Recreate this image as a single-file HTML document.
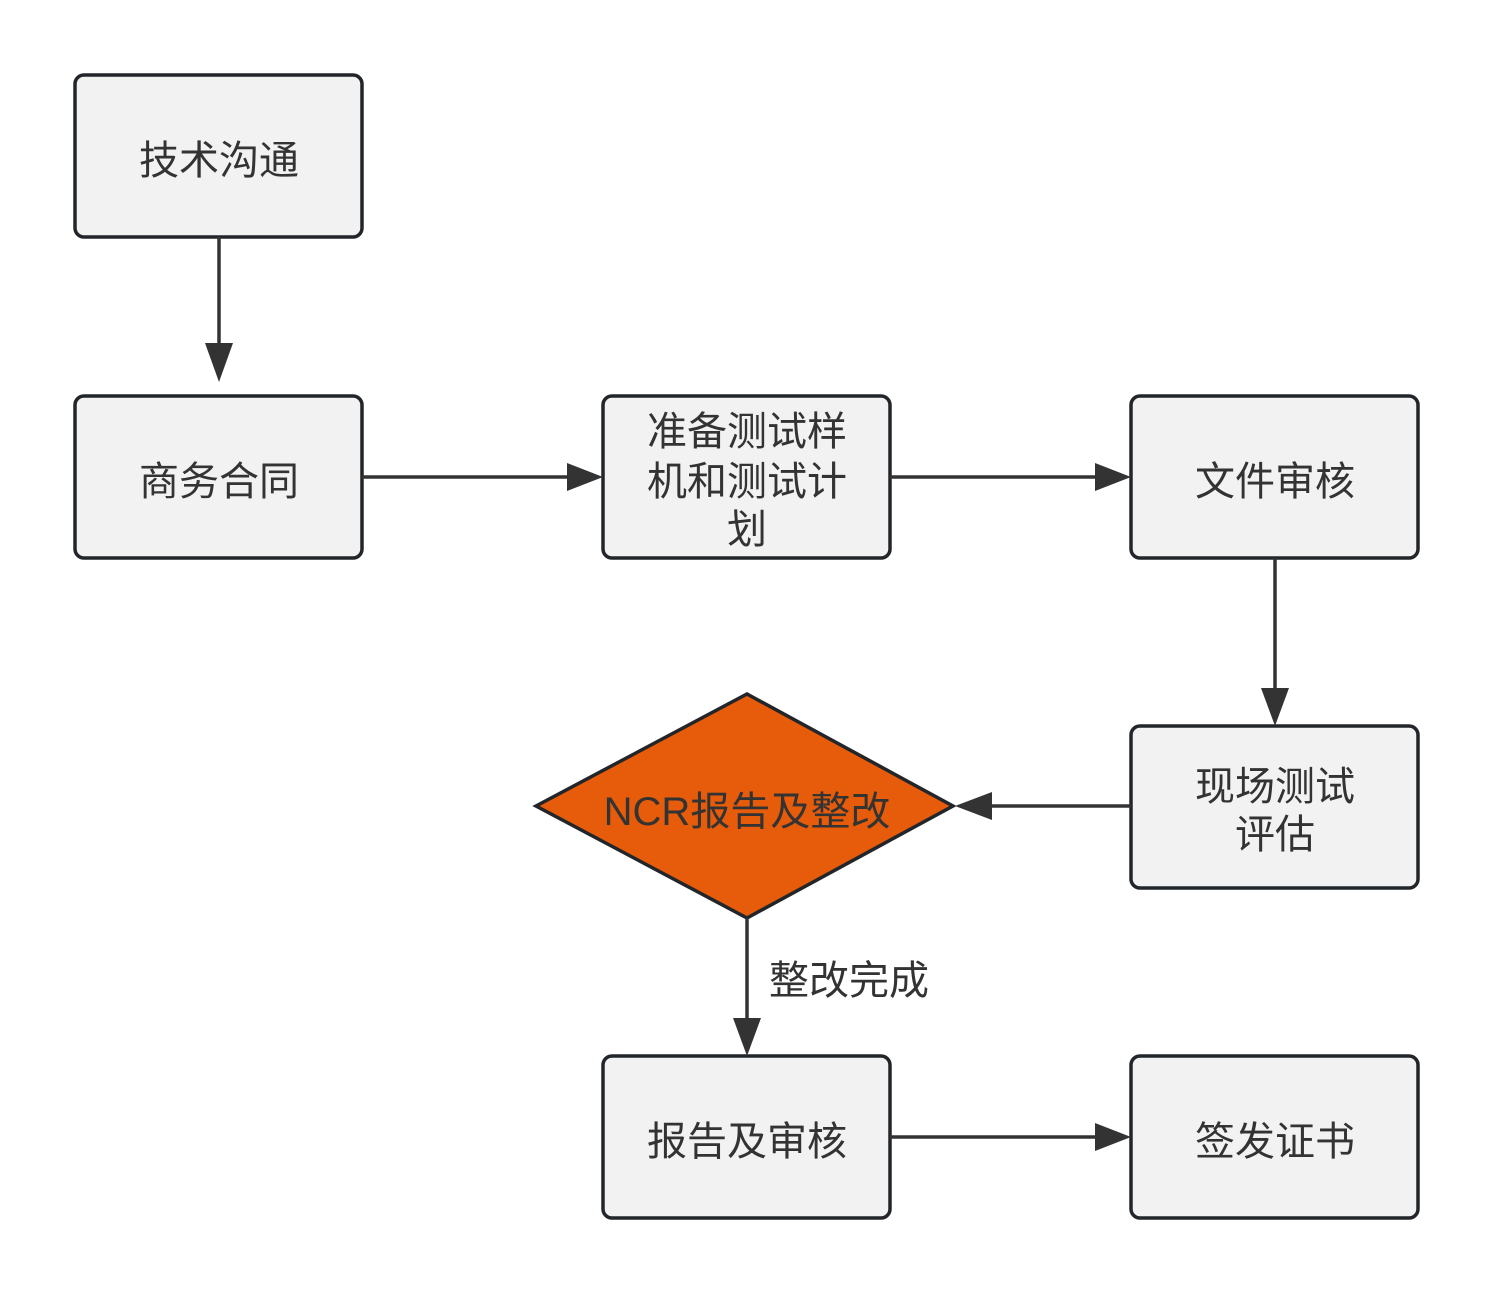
<!DOCTYPE html>
<html><head><meta charset="utf-8"><style>
html,body{margin:0;padding:0;background:#fff;}
svg text{font-family:"Liberation Sans","Noto Sans CJK SC",sans-serif;fill:#333;font-size:40px;}
</style></head><body>
<svg width="1494" height="1293" viewBox="0 0 1494 1293" xmlns="http://www.w3.org/2000/svg">
<g fill="#f2f2f2" stroke="#22262a" stroke-width="3.5">
<rect x="75" y="75" width="287" height="162" rx="9"/>
<rect x="75" y="396" width="287" height="162" rx="9"/>
<rect x="603" y="396" width="287" height="162" rx="9"/>
<rect x="1131" y="396" width="287" height="162" rx="9"/>
<rect x="1131" y="726" width="287" height="162" rx="9"/>
<rect x="603" y="1056" width="287" height="162" rx="9"/>
<rect x="1131" y="1056" width="287" height="162" rx="9"/>
<polygon points="536,806 747,694 953,806 747,918" fill="#e65c0a"/>
</g>
<g stroke="#333" stroke-width="3.5" fill="none">
<line x1="219" y1="237" x2="219" y2="345"/>
<line x1="362" y1="477" x2="570" y2="477"/>
<line x1="890" y1="477" x2="1098" y2="477"/>
<line x1="1275" y1="558" x2="1275" y2="690"/>
<line x1="1131" y1="806" x2="990" y2="806"/>
<line x1="747" y1="918" x2="747" y2="1020"/>
<line x1="890" y1="1137" x2="1098" y2="1137"/>
</g>
<g fill="#333">
<polygon points="205,343 233,343 219,382"/>
<polygon points="567,463 567,491 603,477"/>
<polygon points="1095,463 1095,491 1131,477"/>
<polygon points="1261,688 1289,688 1275,726"/>
<polygon points="992,792 992,820 955,806"/>
<polygon points="733,1018 761,1018 747,1056"/>
<polygon points="1095,1123 1095,1151 1131,1137"/>
</g>
<g text-anchor="middle" dominant-baseline="central">
<text x="219" y="161">技术沟通</text>
<text x="219" y="482">商务合同</text>
<text x="747" y="432">准备测试样</text>
<text x="747" y="482">机和测试计</text>
<text x="747" y="530">划</text>
<text x="1275" y="482">文件审核</text>
<text x="1275" y="787">现场测试</text>
<text x="1275" y="835">评估</text>
<text x="747" y="812">NCR报告及整改</text>
<text x="747" y="1142">报告及审核</text>
<text x="1275" y="1142">签发证书</text>
</g>
<text x="769" y="994">整改完成</text>
</svg>
</body></html>
